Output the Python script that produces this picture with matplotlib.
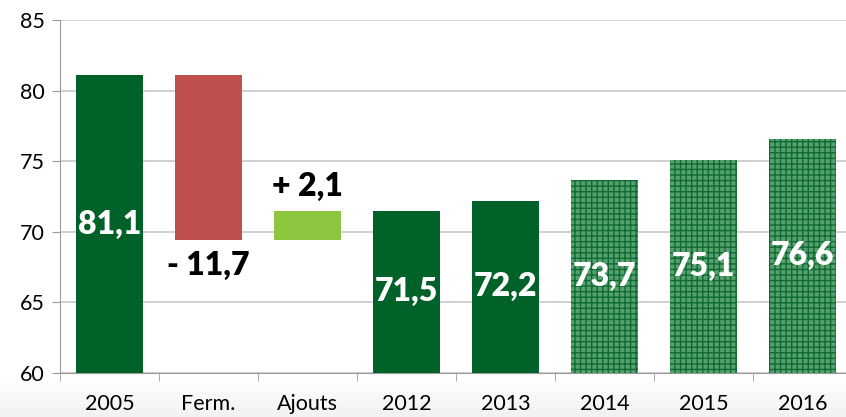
import numpy as np
import matplotlib.pyplot as plt

categories = ['2005', 'Ferm.', 'Ajouts', '2012', '2013', '2014', '2015', '2016']
totals = [81.1, None, None, 71.5, 72.2, 73.7, 75.1, 76.6]
change_ferm = -11.7
change_ajouts = 2.1
labels = ['81,1', '- 11,7', '+ 2,1', '71,5', '72,2', '73,7', '75,1', '76,6']
projected = ['2014', '2015', '2016']

base = 60
dark_green = '#006229'
red = '#C0504D'
light_green = '#8DC63F'

plt.rcParams['font.family'] = ['Lato', 'DejaVu Sans']
plt.rcParams['hatch.linewidth'] = 1.0

fig = plt.figure(figsize=(8.46, 4.17), dpi=100)

# soft grey gradient under the axis
bg = fig.add_axes([0, 0, 1, 0.1])
grad = np.linspace(0, 1, 64).reshape(-1, 1)
bg.imshow(grad, aspect='auto', cmap='Greys', vmin=0, vmax=9, extent=[0, 1, 0, 1])
bg.axis('off')

ax = fig.add_axes([0.0709, 0.1055, 0.936, 0.8466])
ax.set_zorder(1)
ax.patch.set_alpha(0)

x = np.arange(len(categories))
w = 0.67

for i, cat in enumerate(categories):
    v = totals[i]
    if v is None:
        continue
    if cat in projected:
        ax.bar(i, v - base, w, bottom=base, facecolor='#55a06e', edgecolor='#0f6b31',
               hatch='+++', linewidth=0, zorder=3)
    else:
        ax.bar(i, v - base, w, bottom=base, color=dark_green, zorder=3)
    ax.text(i, (base + v) / 2, labels[i], ha='center', va='center', color='white',
            fontsize=23, fontweight='heavy', zorder=4)

# waterfall steps
start = totals[0]
after_ferm = start + change_ferm
ax.bar(1, change_ferm, w, bottom=start, color=red, zorder=3)
ax.text(1, after_ferm - 1.8, labels[1], ha='center', va='center', color='black',
        fontsize=23, fontweight='heavy', zorder=4)
ax.bar(2, change_ajouts, w, bottom=after_ferm, color=light_green, zorder=3)
ax.text(2, after_ferm + change_ajouts + 1.7, labels[2], ha='center', va='center',
        color='black', fontsize=23, fontweight='heavy', zorder=4)

ax.set_xlim(-0.5, len(categories) - 0.5)
ax.set_ylim(60, 85)
ax.set_yticks(range(60, 86, 5))
ax.set_xticks(x)
ax.set_xticklabels(categories)
ax.set_xticks(np.arange(-0.5, len(categories), 1), minor=True)
ax.tick_params(axis='x', which='major', length=0, labelsize=15.5, pad=15)
ax.tick_params(axis='x', which='minor', length=6, color='#9a9a9a')
ax.tick_params(axis='y', length=6, color='#9a9a9a', labelsize=15.5, pad=5)

ax.grid(axis='y', color='#c8c8c8', linewidth=1.2, zorder=0)
for s in ['top', 'right']:
    ax.spines[s].set_visible(False)
for s in ['left', 'bottom']:
    ax.spines[s].set_color('#9a9a9a')

fig.savefig('out.png', dpi=100)
